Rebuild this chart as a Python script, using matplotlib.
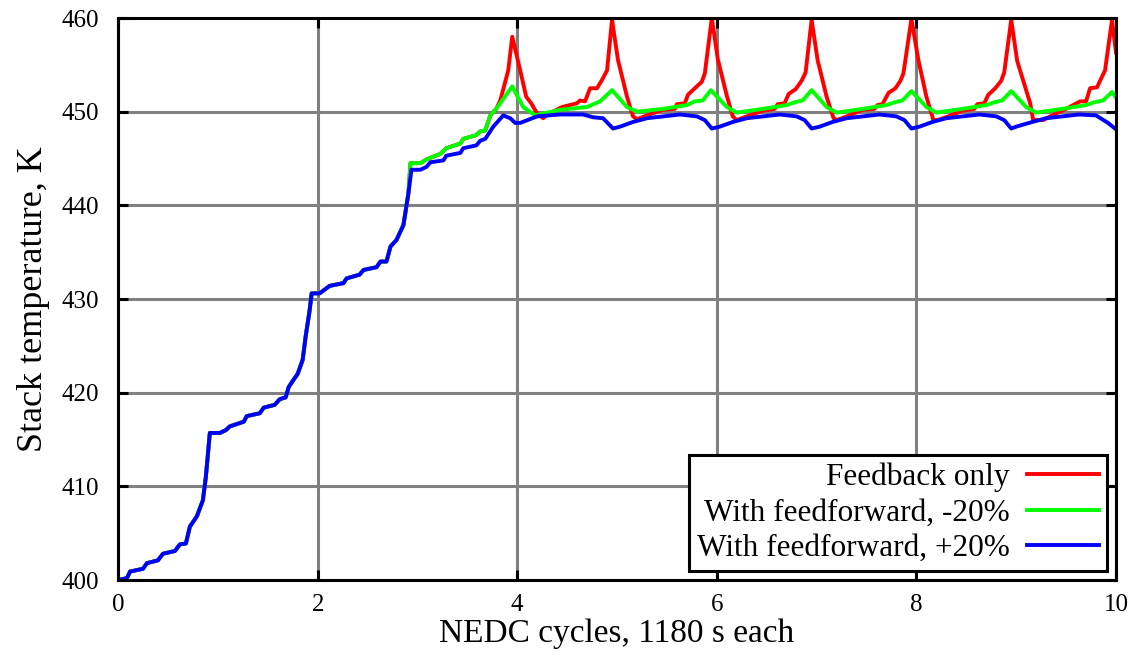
import matplotlib
matplotlib.use("Agg")
import matplotlib.pyplot as plt

plt.rcParams["font.family"] = ["Liberation Serif", "DejaVu Serif"]

# warm-up: all three controllers give the same trace here
warm_x = [0.00, 0.09, 0.12, 0.25, 0.29, 0.40, 0.45, 0.57, 0.62, 0.68, 0.72, 0.79,
          0.85, 0.88, 0.92, 1.02, 1.08, 1.12, 1.26, 1.29, 1.42, 1.46, 1.57, 1.62,
          1.68, 1.71, 1.76, 1.80, 1.85, 1.88, 1.92, 1.94, 2.02, 2.12, 2.26, 2.29,
          2.42, 2.46, 2.59, 2.63, 2.69, 2.73, 2.79, 2.86, 2.91]
warm_y = [400.0, 400.2, 400.9, 401.2, 401.8, 402.1, 402.8, 403.1, 403.8, 403.9, 405.7, 406.8,
          408.5, 411.0, 415.7, 415.7, 416.0, 416.4, 416.9, 417.5, 417.8, 418.4, 418.7, 419.3,
          419.5, 420.6, 421.4, 422.0, 423.5, 426.0, 428.8, 430.6, 430.6, 431.4, 431.7, 432.2,
          432.6, 433.1, 433.4, 434.0, 434.0, 435.6, 436.3, 437.9, 441.3]

red_x = [2.93, 3.03, 3.09, 3.23, 3.29, 3.43, 3.46, 3.59, 3.63, 3.68, 3.73, 3.79,
         3.83, 3.91, 3.95, 4.03, 4.09, 4.14, 4.20, 4.26, 4.30, 4.45, 4.60, 4.63,
         4.68, 4.73, 4.80, 4.85, 4.90, 4.95,
         5.01, 5.10, 5.16, 5.20, 5.30, 5.46, 5.58, 5.60, 5.68, 5.71, 5.78, 5.85, 5.88, 5.95,
         6.01, 6.10, 6.16, 6.20, 6.30, 6.46, 6.58, 6.61, 6.68, 6.72, 6.79, 6.85, 6.89, 6.95,
         7.01, 7.10, 7.17, 7.20, 7.33, 7.46, 7.58, 7.61, 7.66, 7.72, 7.79, 7.84, 7.87, 7.95,
         8.02, 8.10, 8.17, 8.21, 8.32, 8.46, 8.58, 8.61, 8.68, 8.72, 8.79, 8.85, 8.88, 8.95,
         9.01, 9.14, 9.17, 9.27, 9.34, 9.50, 9.64, 9.70, 9.74, 9.81, 9.84, 9.89, 9.96, 10.00]
red_y = [444.5, 444.5, 444.9, 445.5, 446.1, 446.6, 447.1, 447.5, 447.9, 448.0, 449.6, 450.3,
         451.2, 454.4, 458.0, 454.4, 451.6, 450.9, 449.8, 449.3, 449.7, 450.5, 450.9, 451.2,
         451.1, 452.5, 452.5, 453.4, 454.4, 459.8,
         455.5, 451.6, 449.5, 449.2, 449.6, 450.2, 450.3, 450.8, 450.9, 451.8, 452.5, 453.2, 454.1, 460.0,
         455.6, 451.7, 449.5, 449.1, 449.5, 450.1, 450.3, 450.8, 450.9, 451.9, 452.4, 453.3, 454.2, 459.8,
         455.5, 451.6, 449.3, 449.1, 449.6, 450.2, 450.3, 450.7, 450.8, 452.0, 452.5, 453.3, 454.1, 459.9,
         455.5, 451.6, 449.1, 449.1, 449.5, 450.1, 450.3, 450.8, 450.9, 451.8, 452.5, 453.3, 454.2, 459.8,
         455.4, 450.9, 449.1, 449.1, 449.5, 450.3, 451.1, 451.1, 452.5, 452.6, 453.3, 454.4, 459.8, 456.3]

green_x = [2.93, 3.03, 3.09, 3.23, 3.29, 3.43, 3.46, 3.59, 3.63, 3.68, 3.73, 3.79,
           3.87, 3.95, 4.06, 4.18, 4.30, 4.43, 4.70, 4.83, 4.95,
           5.10, 5.20, 5.46, 5.70, 5.78, 5.86, 5.94,
           6.10, 6.20, 6.46, 6.70, 6.78, 6.86, 6.95,
           7.10, 7.20, 7.46, 7.70, 7.78, 7.86, 7.95,
           8.10, 8.20, 8.46, 8.70, 8.78, 8.86, 8.95,
           9.10, 9.20, 9.46, 9.70, 9.78, 9.87, 9.96, 10.00]
green_y = [444.5, 444.5, 444.9, 445.5, 446.1, 446.6, 447.1, 447.5, 447.9, 448.0, 449.6, 450.3,
           451.5, 452.7, 450.5, 449.6, 449.9, 450.2, 450.5, 451.1, 452.3,
           450.5, 450.0, 450.3, 450.7, 451.1, 451.2, 452.3,
           450.5, 449.9, 450.3, 450.7, 451.0, 451.2, 452.3,
           450.5, 449.9, 450.3, 450.7, 451.0, 451.2, 452.2,
           450.5, 449.9, 450.3, 450.7, 451.0, 451.2, 452.2,
           450.5, 449.9, 450.3, 450.7, 451.0, 451.2, 452.1, 451.5]

blue_x = [2.94, 3.03, 3.09, 3.13, 3.26, 3.29, 3.43, 3.46, 3.59, 3.63, 3.68, 3.76,
          3.86, 3.93, 3.98, 4.03, 4.20, 4.43, 4.66, 4.76, 4.86, 4.96,
          5.03, 5.16, 5.30, 5.63, 5.80, 5.88, 5.95,
          6.03, 6.16, 6.30, 6.63, 6.80, 6.88, 6.95,
          7.03, 7.16, 7.30, 7.63, 7.80, 7.88, 7.95,
          8.03, 8.16, 8.30, 8.63, 8.80, 8.88, 8.95,
          9.00, 9.16, 9.30, 9.63, 9.80, 9.92, 9.99]
blue_y = [443.8, 443.8, 444.1, 444.6, 444.8, 445.3, 445.6, 446.1, 446.4, 446.9, 447.1, 448.4,
          449.6, 449.3, 448.8, 448.8, 449.5, 449.7, 449.7, 449.4, 449.3, 448.2,
          448.4, 448.9, 449.3, 449.7, 449.5, 449.1, 448.2,
          448.4, 448.9, 449.3, 449.7, 449.5, 449.1, 448.2,
          448.4, 448.9, 449.3, 449.7, 449.5, 449.1, 448.2,
          448.4, 448.9, 449.3, 449.7, 449.5, 449.1, 448.2,
          448.4, 448.9, 449.3, 449.7, 449.6, 448.8, 448.2]

labels = ["Feedback only", "With feedforward, -20%", "With feedforward, +20%"]
colors = ["#ff0000", "#00ff00", "#0000ff"]

fig = plt.figure(figsize=(11.36, 6.55), dpi=100)
ax = fig.add_axes([0.1039, 0.1145, 0.8785, 0.858])

series = [(red_x, red_y), (green_x, green_y), (blue_x, blue_y)]
for (sx, sy), lab, col in zip(series, labels, colors):
    ax.plot(warm_x + sx, warm_y + sy, color=col, lw=2.8, label=lab)

ax.set_xlim(0, 10)
ax.set_ylim(400, 460)
ax.set_xticks(range(0, 11, 2))
ax.set_yticks(range(400, 461, 10))
ax.grid(True, color="#808080", lw=2.2)
ax.set_axisbelow(True)
for s in ax.spines.values():
    s.set_linewidth(2.2)
ax.tick_params(direction="in", length=7, width=2.2, labelsize=18,
               top=True, right=True)
ax.tick_params(axis="x", pad=10)
ax.tick_params(axis="y", pad=14)

ax.set_xlabel("NEDC cycles, 1180 s each", fontsize=24, labelpad=2)
ax.set_ylabel("Stack temperature, K", fontsize=26, labelpad=8)

leg = ax.legend(loc="lower right", fontsize=22.5, markerfirst=False,
                fancybox=False, framealpha=1, edgecolor="black",
                handlelength=2.3, handletextpad=0.55, labelspacing=0.2,
                borderpad=0.25, borderaxespad=0.3)
leg.get_frame().set_linewidth(2.2)
# right-align the label column so texts end next to the line samples
for col in leg._legend_box.get_children()[1].get_children():
    col.align = "right"

fig.savefig("out.png", dpi=100)
